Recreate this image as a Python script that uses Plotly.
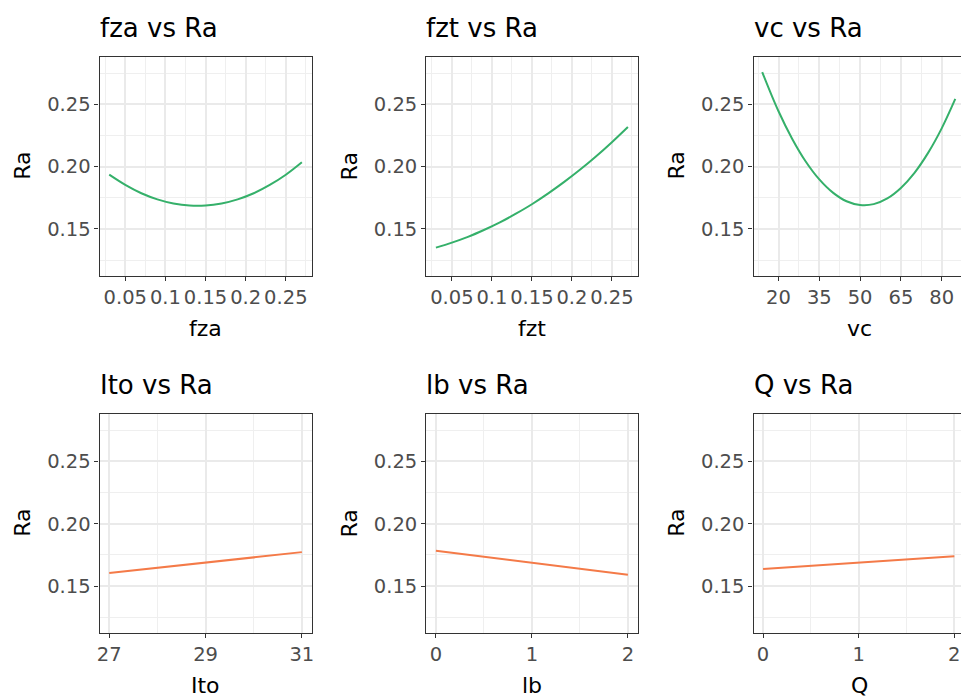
import plotly.graph_objects as go

# ---------------- data ----------------
fza_x = [0.03, 0.05, 0.07, 0.09, 0.11, 0.13, 0.15, 0.17, 0.19, 0.21, 0.23, 0.25, 0.27]
fza_y = [0.1935, 0.1853, 0.1786, 0.1737, 0.1704, 0.1687, 0.1687, 0.1704, 0.1737, 0.1786, 0.1853, 0.1935, 0.2035]

fzt_x = [0.03, 0.05, 0.07, 0.09, 0.11, 0.13, 0.15, 0.17, 0.19, 0.21, 0.23, 0.25, 0.27]
fzt_y = [0.1350, 0.1390, 0.1436, 0.1491, 0.1552, 0.1622, 0.1698, 0.1783, 0.1875, 0.1974, 0.2081, 0.2196, 0.2318]

vc_x = [14, 20, 25, 30, 35, 40, 45, 50, 55, 60, 65, 70, 75, 80, 85]
vc_y = [0.2759, 0.2444, 0.2224, 0.2041, 0.1897, 0.1791, 0.1722, 0.1692, 0.1699, 0.1745, 0.1829, 0.1950, 0.2110, 0.2307, 0.2543]

ito_x = [27, 31]
ito_y = [0.1604, 0.1772]

lb_x = [0, 2]
lb_y = [0.1783, 0.1591]

q_x = [0, 2]
q_y = [0.1636, 0.1738]

y_ticks = [0.15, 0.20, 0.25]
y_ticktext = ["0.15", "0.20", "0.25"]
y_minor = [0.125, 0.175, 0.225, 0.275]

f_ticks = [0.05, 0.10, 0.15, 0.20, 0.25]
f_ticktext = ["0.05", "0.1", "0.15", "0.2", "0.25"]
f_minor = [0.025, 0.075, 0.125, 0.175, 0.225, 0.275]

vc_ticks = [20, 35, 50, 65, 80]
vc_minor = [12.5, 27.5, 42.5, 57.5, 72.5]

ito_ticks = [27, 29, 31]
ito_minor = [28, 30]

lvl_ticks = [0, 1, 2]
lvl_minor = [0.5, 1.5]

GREEN = "#35B06A"
ORANGE = "#F47A48"

# ---------------- layout geometry ----------------
W, H = 961, 697
cols = [(99.6, 311.5), (426.3, 637.5), (753.5, 961.0)]
rows = [(56.7, 275.5), (413.7, 632.7)]
y_range = [0.1126, 0.2882]

panels = [
    dict(name="fza", x=fza_x, y=fza_y, color=GREEN, r=0, c=0, xr=[0.018, 0.282],
         tv=f_ticks, tt=f_ticktext, mv=f_minor),
    dict(name="fzt", x=fzt_x, y=fzt_y, color=GREEN, r=0, c=1, xr=[0.018, 0.282],
         tv=f_ticks, tt=f_ticktext, mv=f_minor),
    dict(name="vc", x=vc_x, y=vc_y, color=GREEN, r=0, c=2, xr=[10.8, 87.1],
         tv=vc_ticks, tt=[str(v) for v in vc_ticks], mv=vc_minor),
    dict(name="Ito", x=ito_x, y=ito_y, color=ORANGE, r=1, c=0, xr=[26.8, 31.2],
         tv=ito_ticks, tt=[str(v) for v in ito_ticks], mv=ito_minor),
    dict(name="lb", x=lb_x, y=lb_y, color=ORANGE, r=1, c=1, xr=[-0.1, 2.1],
         tv=lvl_ticks, tt=[str(v) for v in lvl_ticks], mv=lvl_minor),
    dict(name="Q", x=q_x, y=q_y, color=ORANGE, r=1, c=2, xr=[-0.1, 2.07],
         tv=lvl_ticks, tt=[str(v) for v in lvl_ticks], mv=lvl_minor),
]

FONT = "DejaVu Sans"
GRID = "#EAEAEA"
MINOR = "#EFEFEF"
LINE = "#333333"

def px_x(p):
    return p / W

def px_y(p):
    return 1 - p / H

fig = go.Figure()
layout = dict(
    width=W, height=H,
    margin=dict(l=0, r=0, t=0, b=0),
    paper_bgcolor="white", plot_bgcolor="white",
    showlegend=False,
    font=dict(family=FONT, color="#000000"),
)
annotations = []

for i, p in enumerate(panels, start=1):
    sfx = "" if i == 1 else str(i)
    x0, x1 = cols[p["c"]]
    top, bot = rows[p["r"]]
    fig.add_trace(go.Scatter(
        x=p["x"], y=p["y"], mode="lines",
        line=dict(color=p["color"], width=2, shape="spline", smoothing=1.0),
        xaxis="x" + sfx, yaxis="y" + sfx, hoverinfo="skip",
    ))
    last_col = p["c"] == 2
    layout["xaxis" + sfx] = dict(
        domain=[px_x(x0), min(1.0, px_x(x1))], anchor="y" + sfx,
        range=p["xr"], tickmode="array", tickvals=p["tv"], ticktext=p["tt"],
        showgrid=True, gridcolor=GRID, gridwidth=1.6, zeroline=False,
        showline=True, linecolor=LINE, linewidth=1.3, mirror=True,
        ticks="outside", ticklen=4, tickwidth=1.3, tickcolor=LINE,
        tickfont=dict(family=FONT, size=19.5, color="#4D4D4D"),
        minor=dict(tickmode="array", tickvals=p["mv"], showgrid=True,
                   gridcolor=MINOR, gridwidth=1.0, ticks=""),
        automargin=False, fixedrange=True,
    )
    layout["yaxis" + sfx] = dict(
        domain=[px_y(bot), px_y(top)], anchor="x" + sfx,
        range=y_range, tickmode="array", tickvals=y_ticks, ticktext=y_ticktext,
        showgrid=True, gridcolor=GRID, gridwidth=1.6, zeroline=False,
        showline=True, linecolor=LINE, linewidth=1.3,
        mirror=(False if last_col else True),
        ticks="outside", ticklen=4, tickwidth=1.3, tickcolor=LINE,
        tickfont=dict(family=FONT, size=19.5, color="#4D4D4D"),
        minor=dict(tickmode="array", tickvals=y_minor, showgrid=True,
                   gridcolor=MINOR, gridwidth=1.0, ticks=""),
        automargin=False, fixedrange=True,
    )
    # panel title
    annotations.append(dict(
        text=f"{p['name']} vs Ra", xref="paper", yref="paper",
        x=px_x(x0) - 0.002, y=px_y(top - 29), xanchor="left", yanchor="middle",
        showarrow=False, font=dict(family=FONT, size=26, color="#000000"),
    ))
    # x axis title
    annotations.append(dict(
        text=p["name"], xref="paper", yref="paper",
        x=px_x((x0 + (x0 + 211.9)) / 2), y=px_y(bot + 52.5),
        xanchor="center", yanchor="middle",
        showarrow=False, font=dict(family=FONT, size=22, color="#000000"),
    ))
    # y axis title
    annotations.append(dict(
        text="Ra", xref="paper", yref="paper", textangle=-90,
        x=px_x(x0 - 77), y=px_y((top + bot) / 2),
        xanchor="center", yanchor="middle",
        showarrow=False, font=dict(family=FONT, size=22, color="#000000"),
    ))

layout["annotations"] = annotations
fig.update_layout(**layout)
fig.update_layout(template=None)
fig.write_html("out.html", config={"displayModeBar": False})
